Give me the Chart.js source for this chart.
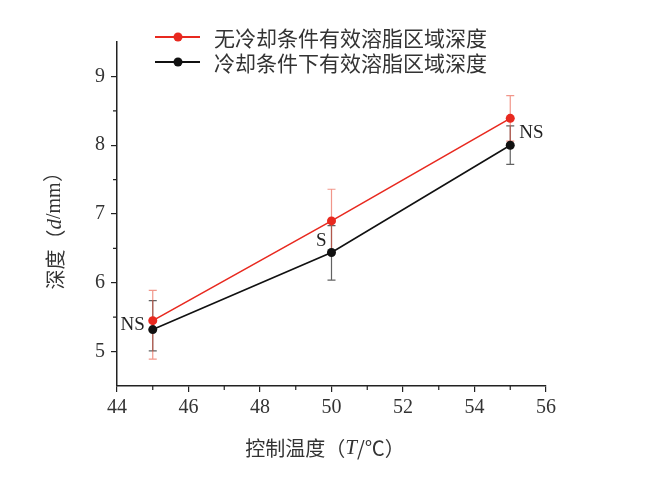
<!DOCTYPE html>
<html lang="zh-CN">
<head>
<meta charset="UTF-8">
<title>有效溶脂区域深度</title>
<script src="https://cdn.jsdelivr.net/npm/chart.js"></script>
<style>
  html, body { margin: 0; padding: 0; background: #fff; }
</style>
</head>
<body>
<canvas id="myChart" width="645" height="477" style="width:645px;height:477px;"></canvas>
<script>
// 数据
const temps = [45, 50, 55];
const seriesNames = ['无冷却条件有效溶脂区域深度', '冷却条件下有效溶脂区域深度'];
const noCoolDepth = [5.45, 6.9, 8.39];
const noCoolLow = [4.89, 6.44, 8.06];
const noCoolHigh = [5.89, 7.36, 8.72];
const coolDepth = [5.32, 6.44, 8.0];
const coolLow = [5.01, 6.04, 7.72];
const coolHigh = [5.74, 6.83, 8.28];
const marks = ['NS', 'S', 'NS'];
const xTicks = [44, 46, 48, 50, 52, 54, 56];
const xMinor = [45, 47, 49, 51, 53, 55];
const yTicks = [5, 6, 7, 8, 9];
const yMinor = [5.5, 6.5, 7.5, 8.5];

const RED = '#e8291f';
const BLACK = '#111';
const AXIS = '#222';
const CJK = '"Noto Sans CJK SC", sans-serif';
const SERIF = '"Liberation Serif", "DejaVu Serif", serif';

const toPoints = (ys) => temps.map((t, i) => ({ x: t, y: ys[i] }));

// 误差线 + 次刻度 + 标注 + 图例 + 轴标题
const extrasPlugin = {
  id: 'extras',
  beforeDatasetsDraw(chart) {
    const ctx = chart.ctx;
    const xs = chart.scales.x, ys = chart.scales.y;
    const bars = [
      { low: coolLow, high: coolHigh, color: 'rgba(70,70,70,0.85)' },
      { low: noCoolLow, high: noCoolHigh, color: 'rgba(232,80,60,0.6)' }
    ];
    ctx.save();
    ctx.lineWidth = 1.2;
    bars.forEach(b => {
      ctx.strokeStyle = b.color;
      temps.forEach((t, i) => {
        const px = xs.getPixelForValue(t);
        const y1 = ys.getPixelForValue(b.low[i]);
        const y2 = ys.getPixelForValue(b.high[i]);
        ctx.beginPath();
        ctx.moveTo(px, y1); ctx.lineTo(px, y2);
        ctx.moveTo(px - 4, y1); ctx.lineTo(px + 4, y1);
        ctx.moveTo(px - 4, y2); ctx.lineTo(px + 4, y2);
        ctx.stroke();
      });
    });
    ctx.restore();
  },
  afterDraw(chart) {
    const ctx = chart.ctx;
    const xs = chart.scales.x, ys = chart.scales.y;
    const area = chart.chartArea;
    ctx.save();

    // 次刻度
    ctx.strokeStyle = AXIS;
    ctx.lineWidth = 1.2;
    ctx.beginPath();
    xMinor.forEach(v => {
      const px = xs.getPixelForValue(v);
      ctx.moveTo(px, area.bottom); ctx.lineTo(px, area.bottom + 4);
    });
    yMinor.forEach(v => {
      const py = ys.getPixelForValue(v);
      ctx.moveTo(area.left, py); ctx.lineTo(area.left - 4, py);
    });
    ctx.stroke();

    // 显著性标注
    ctx.fillStyle = '#222';
    ctx.font = '19px ' + SERIF;
    ctx.textBaseline = 'middle';
    temps.forEach((t, i) => {
      const px = xs.getPixelForValue(t);
      const py = (ys.getPixelForValue(noCoolDepth[i]) + ys.getPixelForValue(coolDepth[i])) / 2;
      if (i === temps.length - 1) {
        ctx.textAlign = 'left';
        ctx.fillText(marks[i], px + 9, py + 1);
      } else {
        ctx.textAlign = 'right';
        ctx.fillText(marks[i], px - (i === 0 ? 8 : 5), py + (i === 0 ? 0 : 4));
      }
    });

    // 图例
    const colors = [RED, BLACK];
    seriesNames.forEach((name, i) => {
      const y = 37 + i * 25;
      ctx.strokeStyle = colors[i];
      ctx.lineWidth = 1.8;
      ctx.beginPath();
      ctx.moveTo(155, y); ctx.lineTo(200, y);
      ctx.stroke();
      ctx.fillStyle = colors[i];
      ctx.beginPath();
      ctx.arc(178, y, 4.5, 0, Math.PI * 2);
      ctx.fill();
      ctx.fillStyle = '#333';
      ctx.font = '21px ' + CJK;
      ctx.textAlign = 'left';
      ctx.textBaseline = 'middle';
      ctx.fillText(name, 214, y + 1);
    });

    // 轴标题（含斜体）
    const drawParts = (parts, cx, cy) => {
      let total = 0;
      parts.forEach(p => { ctx.font = p[1]; total += ctx.measureText(p[0]).width; });
      let x = cx - total / 2;
      ctx.textAlign = 'left';
      ctx.textBaseline = 'middle';
      parts.forEach(p => {
        ctx.font = p[1];
        ctx.fillText(p[0], x, cy);
        x += ctx.measureText(p[0]).width;
      });
    };
    ctx.fillStyle = '#333';
    drawParts([
      ['控制温度（', '20px ' + CJK],
      ['T', 'italic 21px ' + SERIF],
      ['/℃）', '20px ' + CJK]
    ], 325, 448);

    ctx.translate(55, 226);
    ctx.rotate(-Math.PI / 2);
    drawParts([
      ['深度（', '20px ' + CJK],
      ['d', 'italic 21px ' + SERIF],
      ['/mm）', '20px ' + SERIF]
    ], 0, 0);

    ctx.restore();
  }
};

const axisCommon = {
  grid: { drawOnChartArea: false, drawTicks: true, tickLength: 6, color: AXIS, lineWidth: 1.2 },
  border: { display: true, color: AXIS, width: 1.5 },
  ticks: { color: '#333', font: { family: SERIF, size: 20 } }
};

const ctx = document.getElementById('myChart').getContext('2d');
const myChart = new Chart(ctx, {
  type: 'line',
  data: {
    datasets: [{
      label: seriesNames[0],
      data: toPoints(noCoolDepth),
      borderColor: RED,
      backgroundColor: RED,
      borderWidth: 1.6,
      pointRadius: 4.5,
      pointBorderWidth: 0,
      pointHoverRadius: 4.5
    }, {
      label: seriesNames[1],
      data: toPoints(coolDepth),
      borderColor: BLACK,
      backgroundColor: BLACK,
      borderWidth: 1.6,
      pointRadius: 4.5,
      pointBorderWidth: 0,
      pointHoverRadius: 4.5
    }]
  },
  options: {
    responsive: false,
    maintainAspectRatio: false,
    animation: false,
    layout: { padding: { top: 42, right: 99, left: 0, bottom: 0 } },
    plugins: { legend: { display: false }, tooltip: { enabled: false } },
    scales: {
      x: {
        type: 'linear',
        min: 44, max: 56,
        ...axisCommon,
        ticks: { ...axisCommon.ticks, padding: 4 },
        afterBuildTicks: s => { s.ticks = xTicks.map(v => ({ value: v })); },
        afterFit: s => { s.height = 91; }
      },
      y: {
        min: 4.5, max: 9.5,
        ...axisCommon,
        ticks: { ...axisCommon.ticks, padding: 6 },
        afterBuildTicks: s => { s.ticks = yTicks.map(v => ({ value: v })); },
        afterFit: s => { s.width = 117; }
      }
    }
  },
  plugins: [extrasPlugin]
});
</script>
</body>
</html>
